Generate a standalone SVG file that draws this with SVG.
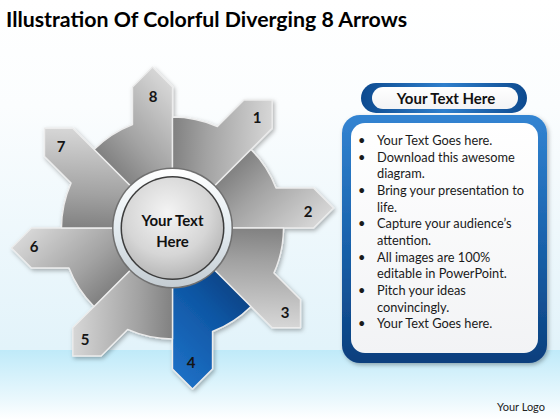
<svg xmlns="http://www.w3.org/2000/svg" width="560" height="420" viewBox="0 0 560 420">
<defs>
<linearGradient id="bgTop" x1="0" y1="0" x2="0" y2="1">
<stop offset="0" stop-color="#ffffff"/><stop offset="0.3" stop-color="#fbfdfe"/><stop offset="1" stop-color="#e2f3fa"/>
</linearGradient>
<linearGradient id="bgBot" x1="0" y1="0" x2="0" y2="1">
<stop offset="0" stop-color="#bfeaf9"/><stop offset="0.7" stop-color="#eaf8fd"/><stop offset="1" stop-color="#ffffff"/>
</linearGradient>
<linearGradient id="gGray" gradientUnits="userSpaceOnUse" x1="-95" y1="-70" x2="-10" y2="-150">
<stop offset="0" stop-color="#6f6f6f"/><stop offset="0.45" stop-color="#a2a2a2"/><stop offset="1" stop-color="#d6d6d6"/>
</linearGradient>
<linearGradient id="gBlue" gradientUnits="userSpaceOnUse" x1="-95" y1="-70" x2="-10" y2="-150">
<stop offset="0" stop-color="#0a3c7a"/><stop offset="0.45" stop-color="#0f57a5"/><stop offset="1" stop-color="#1d6fc4"/>
</linearGradient>
<linearGradient id="ringG" x1="0" y1="0" x2="0" y2="1">
<stop offset="0" stop-color="#ffffff"/><stop offset="0.5" stop-color="#e4ecf1"/><stop offset="1" stop-color="#c4ccd2"/>
</linearGradient>
<radialGradient id="coreG" cx="0.45" cy="0.35" r="0.7">
<stop offset="0" stop-color="#f4f4f4"/><stop offset="0.6" stop-color="#d6d6d6"/><stop offset="1" stop-color="#b0b0b0"/>
</radialGradient>
<linearGradient id="frameG" x1="0" y1="0" x2="0" y2="1">
<stop offset="0" stop-color="#3384d2"/><stop offset="0.5" stop-color="#1a63ad"/><stop offset="1" stop-color="#0c3f7d"/>
</linearGradient>
<linearGradient id="pillG" x1="0" y1="0" x2="1" y2="0">
<stop offset="0" stop-color="#0d4a8f"/><stop offset="0.5" stop-color="#2f7fcc"/><stop offset="1" stop-color="#0d4a8f"/>
</linearGradient>
<linearGradient id="innerG" x1="0" y1="0" x2="0" y2="1">
<stop offset="0" stop-color="#ffffff"/><stop offset="1" stop-color="#f2f3f5"/>
</linearGradient>
<filter id="sh" x="-20%" y="-20%" width="140%" height="140%">
<feDropShadow dx="1.5" dy="2" stdDeviation="2" flood-color="#000" flood-opacity="0.3"/>
</filter>
<path id="piece" d="M 0 0 L 0 -141 L -20 -161 L -40 -141 L -40 -103.5 A 111 111 0 0 0 -78.49 -78.49 Z"/>
</defs>
<style>
.pc{stroke:#ececec;stroke-width:1.4;stroke-linejoin:round}
.num{font-family:Lato,"Liberation Sans",sans-serif;font-weight:bold;font-size:15px;fill:#151515;text-anchor:middle}
.bul{font-family:Lato,"Liberation Sans",sans-serif;font-size:12.8px;fill:#1a1a1a}
</style>
<rect x="0" y="0" width="560" height="350" fill="url(#bgTop)"/>
<rect x="0" y="350" width="560" height="70" fill="url(#bgBot)"/>
<text x="6" y="27" font-family="Lato,'Liberation Sans',sans-serif" font-weight="bold" font-size="21" fill="#000" textLength="401" lengthAdjust="spacingAndGlyphs">Illustration Of Colorful Diverging 8 Arrows</text>
<g id="gear" filter="url(#sh)">
<g id="arrow8"><use href="#piece" class="pc" fill="url(#gGray)" transform="translate(172.5,228) rotate(0)"/></g>
<g id="arrow1"><use href="#piece" class="pc" fill="url(#gGray)" transform="translate(172.5,228) rotate(45)"/></g>
<g id="arrow2"><use href="#piece" class="pc" fill="url(#gGray)" transform="translate(172.5,228) rotate(90)"/></g>
<g id="arrow3"><use href="#piece" class="pc" fill="url(#gGray)" transform="translate(172.5,228) rotate(135)"/></g>
<g id="arrow4"><use href="#piece" class="pc" fill="url(#gBlue)" transform="translate(172.5,228) rotate(180)"/></g>
<g id="arrow5"><use href="#piece" class="pc" fill="url(#gGray)" transform="translate(172.5,228) rotate(225)"/></g>
<g id="arrow6"><use href="#piece" class="pc" fill="url(#gGray)" transform="translate(172.5,228) rotate(270)"/></g>
<g id="arrow7"><use href="#piece" class="pc" fill="url(#gGray)" transform="translate(172.5,228) rotate(315)"/></g>
</g>
<g id="labels">
<text class="num" x="153" y="102">8</text>
<text class="num" x="257" y="123">1</text>
<text class="num" x="308" y="217">2</text>
<text class="num" x="285" y="318">3</text>
<text class="num" x="191" y="368">4</text>
<text class="num" x="85" y="345">5</text>
<text class="num" x="34" y="252">6</text>
<text class="num" x="61" y="152">7</text>
</g>
<g id="center">
<circle cx="172.5" cy="228" r="60.5" fill="#707070"/>
<circle cx="172.5" cy="228" r="59" fill="url(#ringG)"/>
<circle cx="172.5" cy="228" r="52" fill="#3c3c3c"/>
<circle cx="172.5" cy="228" r="50.5" fill="url(#coreG)"/>
<text x="172.5" y="226" font-family="Lato,'Liberation Sans',sans-serif" font-weight="bold" font-size="15" fill="#111" text-anchor="middle">Your Text</text>
<text x="172.5" y="247" font-family="Lato,'Liberation Sans',sans-serif" font-weight="bold" font-size="15" fill="#111" text-anchor="middle">Here</text>
</g>
<g id="header">
<rect x="361" y="83" width="166" height="30" rx="15" fill="url(#pillG)"/>
<rect x="372" y="87" width="146" height="22" rx="11" fill="url(#innerG)"/>
<text x="446" y="104" font-family="Lato,'Liberation Sans',sans-serif" font-weight="bold" font-size="15" fill="#111" text-anchor="middle">Your Text Here</text>
</g>
<g id="textbox">
<rect x="342" y="115" width="205" height="248" rx="18" fill="url(#frameG)" filter="url(#sh)"/>
<rect x="351" y="123" width="187" height="230" rx="14" fill="url(#innerG)"/>
<g class="bul">
<text x="358" y="145">•</text><text x="377" y="145">Your Text Goes here.</text>
<text x="358" y="161.7">•</text><text x="377" y="161.7">Download this awesome</text>
<text x="377" y="178.3">diagram.</text>
<text x="358" y="195">•</text><text x="377" y="195">Bring your presentation to</text>
<text x="377" y="211.7">life.</text>
<text x="358" y="228.3">•</text><text x="377" y="228.3">Capture your audience’s</text>
<text x="377" y="245">attention.</text>
<text x="358" y="261.7">•</text><text x="377" y="261.7">All images are 100%</text>
<text x="377" y="278.3">editable in PowerPoint.</text>
<text x="358" y="295">•</text><text x="377" y="295">Pitch your ideas</text>
<text x="377" y="311.7">convincingly.</text>
<text x="358" y="328.3">•</text><text x="377" y="328.3">Your Text Goes here.</text>
</g>
</g>
<text x="545" y="411" font-family="Lato,'Liberation Sans',sans-serif" font-size="11" fill="#222" text-anchor="end">Your Logo</text>
</svg>
